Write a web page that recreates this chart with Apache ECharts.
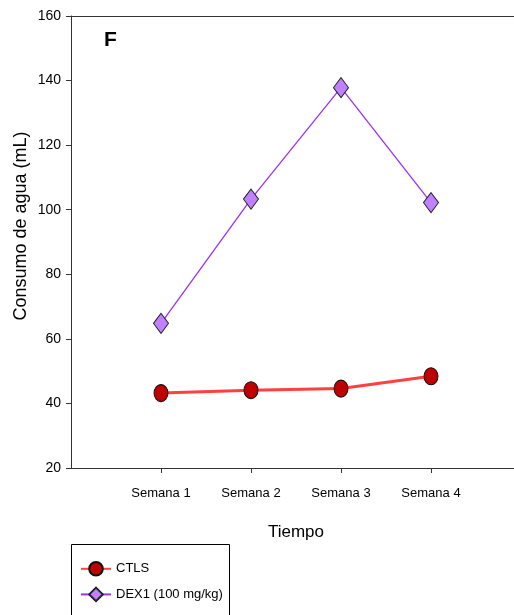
<!DOCTYPE html>
<html>
<head>
<meta charset="utf-8">
<script src="https://cdn.jsdelivr.net/npm/echarts@6/dist/echarts.min.js"></script>
<style>
html,body{margin:0;padding:0;background:#fff;}
#main{width:514px;height:615px;}
</style>
</head>
<body>
<div id="main"></div>
<script>
// semanas
var semanas = ['Semana 1', 'Semana 2', 'Semana 3', 'Semana 4'];
var posX = [1, 2, 3, 4];
// consumo de agua (mL)
var ctls = [43.2, 44.1, 44.6, 48.4];
var dex1 = [64.8, 103.3, 137.8, 102.2];

function pares(vals){
	var out = [];
	for(var i=0;i<vals.length;i++){
		out.push([posX[i], vals[i]]);
	}
	return out;
}

var chart = echarts.init(document.getElementById('main'));
var fuente = 'Liberation Sans, Arial, sans-serif';
// el eje x sigue fuera del lienzo: 0..5 en 71..521
var xMax = 5;
option = {
	animation:false,
	grid:{
		left:71,
		top:16,
		width:450,
		height:452,
		outerBoundsMode:'none'
	},
	graphic:[{
		type:'text',
		left:104,
		top:30,
		style:{text:'F', font:'bold 21px Liberation Sans, Arial', fill:'#000'}
	},{
		type:'text',
		x:21,
		y:226,
		rotation:Math.PI/2,
		style:{text:'Consumo de agua (mL)', font:'18px Liberation Sans, Arial', fill:'#000', align:'center', verticalAlign:'middle'}
	},{
		// marco de la leyenda
		type:'rect',
		shape:{x:71.5, y:544.5, width:158, height:100},
		style:{fill:'none', stroke:'#000', lineWidth:1},
		z:1
	}],
	legend:{
		orient:'vertical',
		left:80,
		top:561,
		padding:0,
		itemWidth:30,
		itemHeight:17,
		itemGap:10,
		textStyle:{fontFamily:fuente, fontSize:13, color:'#000'},
		data:['CTLS','DEX1 (100 mg/kg)']
	},
	xAxis:[{
		type:'value',
		min:0,
		max:xMax,
		interval:1,
		name:'Tiempo',
		nameLocation:'middle',
		nameGap:56,
		nameTextStyle:{fontFamily:fuente, fontSize:17, color:'#000'},
		axisLine:{lineStyle:{color:'#333', width:1}},
		axisTick:{show:true, length:5, lineStyle:{color:'#333'}, customValues:posX},
		axisLabel:{
			fontFamily:fuente, fontSize:13, color:'#000', margin:19,
			customValues:posX,
			formatter:function(v){ return semanas[v-1] || ''; }
		},
		splitLine:{show:false}
	},{
		// linea superior del marco
		type:'value',
		position:'top',
		min:0,
		max:xMax,
		axisLine:{show:true, lineStyle:{color:'#333', width:1}},
		axisTick:{show:false},
		axisLabel:{show:false},
		splitLine:{show:false}
	}],
	yAxis:{
		type:'value',
		min:20,
		max:160,
		interval:20,
		axisLine:{show:true, lineStyle:{color:'#333', width:1}},
		axisTick:{show:true, length:5, lineStyle:{color:'#333'}},
		axisLabel:{fontFamily:fuente, fontSize:14, color:'#000', margin:10},
		splitLine:{show:false}
	},
	series:[{
		name:'CTLS',
		type:'line',
		data:pares(ctls),
		symbol:'circle',
		symbolSize:[14,17],
		lineStyle:{color:'#ff4040', width:3},
		itemStyle:{color:'#c00000', borderColor:'#111', borderWidth:1},
		z:3
	},{
		name:'DEX1 (100 mg/kg)',
		type:'line',
		data:pares(dex1),
		symbol:'diamond',
		symbolSize:[15,20],
		lineStyle:{color:'#9b30ff', width:1.3},
		itemStyle:{color:'#c080ff', borderColor:'#222', borderWidth:1},
		z:2
	}]
};
chart.setOption(option);
</script>
</body>
</html>
